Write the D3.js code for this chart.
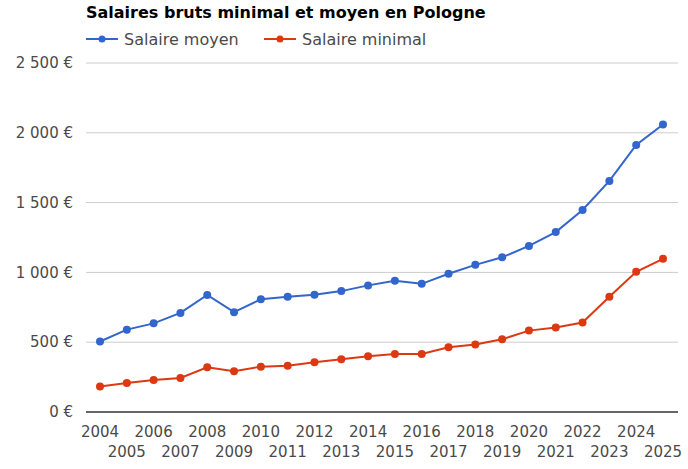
<!DOCTYPE html>
<html lang="fr">
<head>
<meta charset="UTF-8">
<title>Salaires bruts minimal et moyen en Pologne</title>
<script src="https://cdnjs.cloudflare.com/ajax/libs/d3/7.8.5/d3.min.js"></script>
<style>
  body { margin: 0; background: #fff; font-family: 'DejaVu Sans', sans-serif; }
  svg text { fill: #4a4a4a; }
</style>
</head>
<body>
<div id="chart"></div>
<script>
// data
const years = [2004, 2005, 2006, 2007, 2008, 2009, 2010, 2011, 2012, 2013, 2014,
               2015, 2016, 2017, 2018, 2019, 2020, 2021, 2022, 2023, 2024, 2025];
const salaireMoyen = [505, 590, 635, 710, 838, 715, 808, 825, 840, 866, 907,
                      940, 918, 990, 1054, 1108, 1190, 1289, 1447, 1655, 1913, 2060];
const salaireMinimal = [182, 208, 230, 244, 320, 292, 325, 332, 356, 378, 400,
                        416, 416, 464, 483, 521, 583, 605, 641, 825, 1004, 1097];
const yTicks = [0, 500, 1000, 1500, 2000, 2500];
const series = [
  { name: "Salaire moyen", values: salaireMoyen, color: "#3366cc" },
  { name: "Salaire minimal", values: salaireMinimal, color: "#dc3912" }
];

const W = 688, H = 469;
const svg = d3.select("#chart").append("svg").attr("width", W).attr("height", H);

const x = d3.scalePoint().domain(years).range([100, 663]);
const y = d3.scaleLinear().domain([0, 2500]).range([412, 63]);

// title
svg.append("text").attr("x", 86).attr("y", 18)
  .style("font-weight", "bold").style("font-size", "16px").style("fill", "#000")
  .text("Salaires bruts minimal et moyen en Pologne");

// legend
const legendX = [86, 264];
series.forEach((s, i) => {
  const g = svg.append("g").attr("transform", `translate(${legendX[i]},39)`);
  g.append("line").attr("x1", 0).attr("x2", 32).attr("stroke", s.color).attr("stroke-width", 2);
  g.append("circle").attr("cx", 16).attr("r", 3.5).attr("fill", s.color);
  g.append("text").attr("x", 38).attr("y", 6).style("font-size", "16px").text(s.name);
});

// grid + y labels
svg.append("g").selectAll("line").data(yTicks.filter(d => d > 0)).join("line")
  .attr("x1", 86).attr("x2", 678)
  .attr("y1", d => y(d)).attr("y2", d => y(d))
  .attr("stroke", "#ccc").attr("stroke-width", 1);
svg.append("g").selectAll("text").data(yTicks).join("text")
  .attr("x", 73).attr("y", d => y(d)).attr("dy", "0.35em")
  .attr("text-anchor", "end").style("font-size", "15px")
  .text(d => d === 0 ? "0 €" : d3.format(",")(d).replace(/,/g, " ") + " €");

// x baseline
svg.append("line").attr("x1", 86).attr("x2", 678).attr("y1", y(0)).attr("y2", y(0))
  .attr("stroke", "#333").attr("stroke-width", 1.5);

// x labels, staggered on two rows
svg.append("g").selectAll("text").data(years).join("text")
  .attr("x", d => x(d)).attr("y", (d, i) => i % 2 === 0 ? 437 : 457)
  .attr("text-anchor", "middle").style("font-size", "15px")
  .text(d => d);

// lines + points
const line = d3.line().x((d, i) => x(years[i])).y(d => y(d));
series.forEach(s => {
  svg.append("path").datum(s.values).attr("d", line)
    .attr("fill", "none").attr("stroke", s.color).attr("stroke-width", 2);
  svg.append("g").selectAll("circle").data(s.values).join("circle")
    .attr("cx", (d, i) => x(years[i])).attr("cy", d => y(d))
    .attr("r", 4).attr("fill", s.color);
});
</script>
</body>
</html>
